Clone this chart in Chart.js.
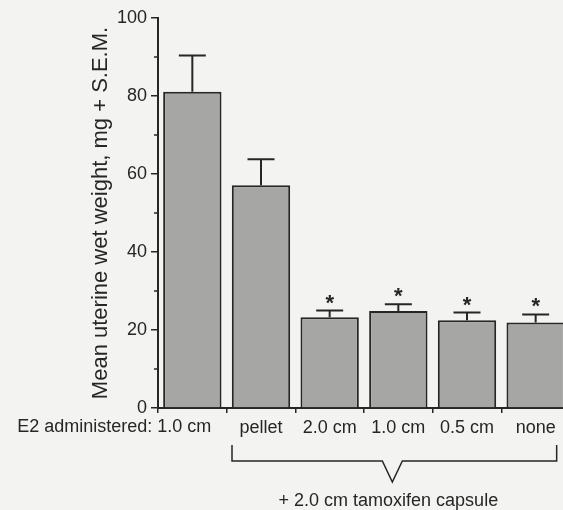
<!DOCTYPE html>
<html>
<head>
<meta charset="utf-8">
<script src="https://cdn.jsdelivr.net/npm/chart.js@4"></script>
<style>
  html, body { margin: 0; padding: 0; background: #f3f3f1; overflow: hidden; }
  #wrap { width: 563px; height: 510px; overflow: hidden; }
  #wrap div { width: 576px; height: 510px; position: relative; }
</style>
</head>
<body>
<div id="wrap"><div><canvas id="uterineChart"></canvas></div></div>
<script>
// E2 dose per group (first group: E2 only, rest: E2 + tamoxifen)
const categories = ["1.0 cm", "pellet", "2.0 cm", "1.0 cm", "0.5 cm", "none"];
const meanWeight = [81.1, 57.1, 23.3, 24.9, 22.5, 21.9];
const semWeight = [9.3, 6.7, 1.7, 1.7, 2.0, 2.1];
const significant = [false, false, true, true, true, true];
const yTicks = [0, 20, 40, 60, 80, 100];
const yMinorTicks = [10, 30, 50, 70, 90];

const ink = "#262626";
const fontFamily = "'Liberation Sans', Arial, Helvetica, sans-serif";

const extras = {
  id: "extras",
  afterDatasetsDraw(chart) {
    const ctx = chart.ctx;
    const x = chart.scales.x;
    const y = chart.scales.y;
    const meta = chart.getDatasetMeta(0);
    ctx.save();
    ctx.strokeStyle = ink;
    ctx.fillStyle = ink;
    ctx.lineWidth = 2;

    // error bars (upper only) and asterisks
    meta.data.forEach((bar, i) => {
      const top = y.getPixelForValue(meanWeight[i]);
      const err = y.getPixelForValue(meanWeight[i] + semWeight[i]);
      ctx.beginPath();
      ctx.moveTo(bar.x, top);
      ctx.lineTo(bar.x, err);
      ctx.moveTo(bar.x - 13.5, err);
      ctx.lineTo(bar.x + 13.5, err);
      ctx.stroke();
      if (significant[i]) {
        ctx.font = "bold 22px " + fontFamily;
        ctx.textAlign = "center";
        ctx.textBaseline = "middle";
        ctx.fillText("*", bar.x, err - 7);
      }
    });

    // minor ticks on the y axis
    ctx.lineWidth = 1.5;
    yMinorTicks.forEach((v) => {
      const py = y.getPixelForValue(v);
      ctx.beginPath();
      ctx.moveTo(x.left - 4, py);
      ctx.lineTo(x.left, py);
      ctx.stroke();
    });

    // "E2 administered:" prefix on the first label
    ctx.font = "18px " + fontFamily;
    ctx.textAlign = "right";
    ctx.textBaseline = "middle";
    ctx.fillText("E2 administered: " + categories[0], x.getPixelForValue(0) + 19, 427);

    // bracket under the tamoxifen groups
    const bl = x.getPixelForValue(1) - 29;
    const br = x.getPixelForValue(5) + 21;
    const mid = (bl + br) / 2 - 2;
    ctx.lineWidth = 1.5;
    ctx.beginPath();
    ctx.moveTo(bl, 445);
    ctx.lineTo(bl, 461);
    ctx.lineTo(mid - 10, 461);
    ctx.lineTo(mid, 482);
    ctx.lineTo(mid + 10, 461);
    ctx.lineTo(br, 461);
    ctx.lineTo(br, 445);
    ctx.stroke();

    ctx.textAlign = "center";
    ctx.fillText("+ 2.0 cm tamoxifen capsule", mid - 4, 501);
    ctx.restore();
  },
};

new Chart(document.getElementById("uterineChart"), {
  type: "bar",
  data: {
    labels: categories,
    datasets: [
      {
        data: meanWeight,
        backgroundColor: "#a6a6a4",
        borderColor: ink,
        borderWidth: 2,
        borderSkipped: "bottom",
        categoryPercentage: 0.85,
        barPercentage: 1.0,
      },
    ],
  },
  options: {
    responsive: true,
    maintainAspectRatio: false,
    animation: false,
    layout: { padding: { top: 18, right: 6, left: 0, bottom: 0 } },
    plugins: {
      legend: { display: false },
      tooltip: { enabled: false },
    },
    scales: {
      x: {
        grid: {
          drawOnChartArea: false,
          color: ink,
          lineWidth: 1.5,
          tickLength: 5,
        },
        border: { color: ink, width: 2 },
        ticks: {
          color: ink,
          padding: 4,
          maxRotation: 0,
          font: { family: fontFamily, size: 18 },
          callback: (v, i) => (i === 0 ? "" : categories[i]),
        },
        afterFit: (scale) => { scale.height = 102; },
      },
      y: {
        min: 0,
        max: 100,
        afterBuildTicks: (scale) => {
          scale.ticks = yTicks.map((v) => ({ value: v }));
        },
        grid: {
          drawOnChartArea: false,
          color: ink,
          lineWidth: 1.5,
          tickLength: 7,
        },
        border: { color: ink, width: 2 },
        ticks: {
          color: ink,
          padding: 4,
          font: { family: fontFamily, size: 18 },
        },
        title: {
          display: true,
          text: "Mean uterine wet weight, mg + S.E.M.",
          color: ink,
          font: { family: fontFamily, size: 22 },
          padding: { top: 88, bottom: 0 },
        },
        afterFit: (scale) => { scale.width = 158; },
      },
    },
  },
  plugins: [extras],
});
</script>
</body>
</html>
